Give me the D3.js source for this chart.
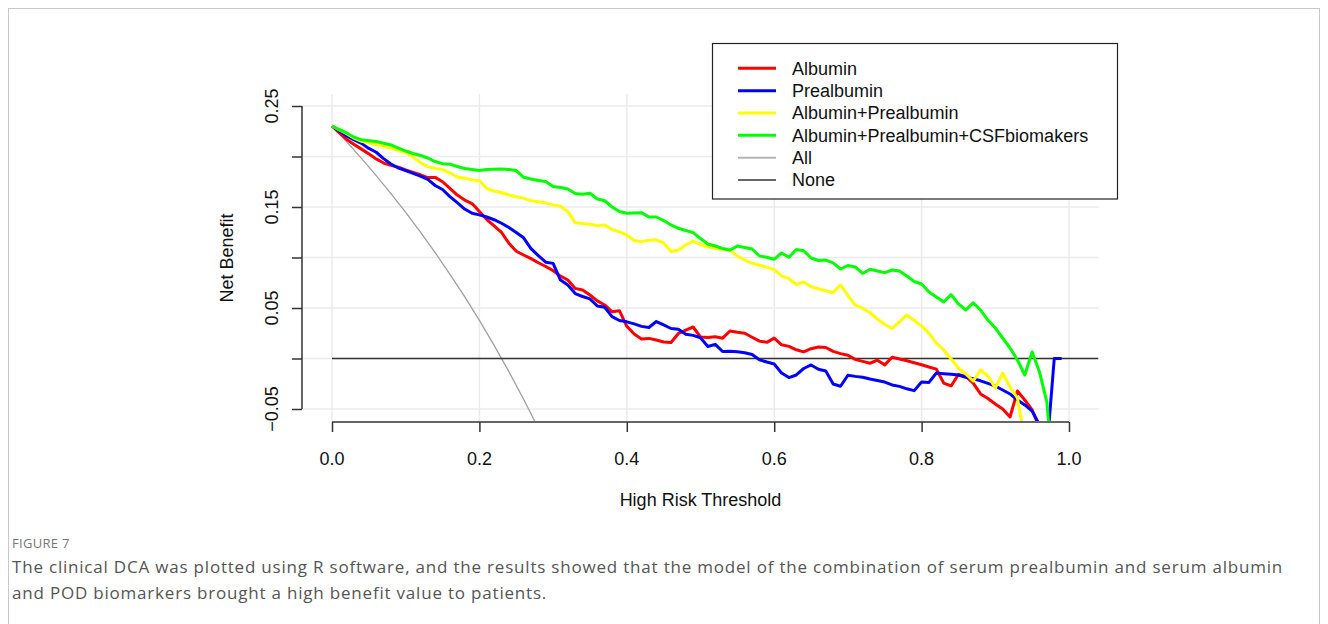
<!DOCTYPE html>
<html><head><meta charset="utf-8">
<script src="https://cdn.jsdelivr.net/npm/d3@7"></script>
<style>
body{margin:0;background:#fff;}
svg{display:block;}
</style></head>
<body>
<svg id="chart" width="1328" height="624"></svg>
<script>
// ---------- DATA ----------
const thresholds = [0.00,0.01,0.02,0.03,0.04,0.05,0.06,0.07,0.08,0.09,
0.10,0.11,0.12,0.13,0.14,0.15,0.16,0.17,0.18,0.19,
0.20,0.21,0.22,0.23,0.24,0.25,0.26,0.27,0.28,0.29,
0.30,0.31,0.32,0.33,0.34,0.35,0.36,0.37,0.38,0.39,
0.40,0.41,0.42,0.43,0.44,0.45,0.46,0.47,0.48,0.49,
0.50,0.51,0.52,0.53,0.54,0.55,0.56,0.57,0.58,0.59,
0.60,0.61,0.62,0.63,0.64,0.65,0.66,0.67,0.68,0.69,
0.70,0.71,0.72,0.73,0.74,0.75,0.76,0.77,0.78,0.79,
0.80,0.81,0.82,0.83,0.84,0.85,0.86,0.87,0.88,0.89,
0.90,0.91,0.92,0.93,0.94,0.95,0.96,0.97,0.98,0.99];

const albumin = [0.2302,0.2233,0.2169,0.2120,0.2073,0.2026,0.1976,0.1935,0.1912,0.1894,
0.1867,0.1843,0.1819,0.1791,0.1793,0.1750,0.1684,0.1618,0.1569,0.1534,
0.1455,0.1376,0.1313,0.1248,0.1142,0.1062,0.1025,0.0989,0.0948,0.0911,
0.0870,0.0815,0.0777,0.0694,0.0678,0.0629,0.0570,0.0530,0.0463,0.0473,
0.0319,0.0242,0.0194,0.0199,0.0183,0.0164,0.0158,0.0248,0.0282,0.0312,
0.0213,0.0207,0.0216,0.0201,0.0272,0.0260,0.0250,0.0210,0.0172,0.0160,
0.0202,0.0136,0.0120,0.0086,0.0066,0.0097,0.0114,0.0109,0.0070,0.0048,
0.0032,-0.0009,-0.0028,-0.0047,-0.0017,-0.0063,0.0012,-0.0005,-0.0022,-0.0042,
-0.0062,-0.0084,-0.0105,-0.0243,-0.0272,-0.0158,-0.0178,-0.0243,-0.0351,-0.0396,
-0.0451,-0.0500,-0.0579,-0.0322,-0.0411,-0.0510,-0.0688,-0.1000];

const prealbumin = [0.2302,0.2253,0.2204,0.2165,0.2130,0.2080,0.2042,0.1979,0.1926,0.1886,
0.1860,0.1833,0.1805,0.1773,0.1713,0.1673,0.1603,0.1543,0.1480,0.1438,
0.1422,0.1401,0.1374,0.1339,0.1297,0.1248,0.1195,0.1087,0.1018,0.0954,
0.0942,0.0777,0.0728,0.0643,0.0614,0.0590,0.0520,0.0507,0.0414,0.0376,
0.0363,0.0343,0.0318,0.0307,0.0366,0.0332,0.0297,0.0290,0.0241,0.0229,
0.0205,0.0119,0.0140,0.0069,0.0072,0.0067,0.0057,0.0040,-0.0013,-0.0035,
-0.0054,-0.0144,-0.0189,-0.0163,-0.0099,-0.0064,-0.0107,-0.0123,-0.0252,-0.0275,
-0.0166,-0.0177,-0.0186,-0.0203,-0.0218,-0.0233,-0.0262,-0.0276,-0.0300,-0.0318,
-0.0233,-0.0237,-0.0144,-0.0150,-0.0156,-0.0163,-0.0186,-0.0201,-0.0221,-0.0246,
-0.0272,-0.0312,-0.0351,-0.0411,-0.0460,-0.0520,-0.0658,-0.0900,0.0000,0.0000];

const albuminPrealbumin = [0.2302,0.2264,0.2226,0.2181,0.2150,0.2135,0.2119,0.2101,0.2083,0.2059,
0.2040,0.1994,0.1940,0.1900,0.1883,0.1870,0.1839,0.1797,0.1784,0.1769,
0.1760,0.1683,0.1658,0.1641,0.1619,0.1602,0.1588,0.1561,0.1552,0.1541,
0.1521,0.1508,0.1454,0.1345,0.1336,0.1329,0.1314,0.1322,0.1277,0.1254,
0.1223,0.1168,0.1157,0.1172,0.1175,0.1145,0.1059,0.1074,0.1124,0.1163,
0.1129,0.1104,0.1092,0.1078,0.1074,0.1013,0.0977,0.0943,0.0924,0.0904,
0.0880,0.0819,0.0790,0.0733,0.0757,0.0711,0.0690,0.0670,0.0653,0.0728,
0.0624,0.0529,0.0498,0.0453,0.0391,0.0337,0.0299,0.0363,0.0431,0.0376,
0.0323,0.0249,0.0153,0.0084,-0.0005,-0.0094,-0.0153,-0.0223,-0.0114,-0.0173,
-0.0292,-0.0144,-0.0282,-0.0391,-0.0807];

const albuminPrealbuminCSF = [0.2302,0.2267,0.2233,0.2191,0.2165,0.2157,0.2149,0.2131,0.2114,0.2084,
0.2054,0.2030,0.2010,0.1985,0.1950,0.1929,0.1924,0.1901,0.1881,0.1871,
0.1861,0.1871,0.1874,0.1876,0.1871,0.1861,0.1794,0.1777,0.1762,0.1752,
0.1703,0.1693,0.1678,0.1634,0.1626,0.1636,0.1579,0.1562,0.1500,0.1455,
0.1438,0.1441,0.1444,0.1401,0.1401,0.1366,0.1322,0.1289,0.1267,0.1246,
0.1188,0.1134,0.1114,0.1089,0.1074,0.1114,0.1099,0.1084,0.1015,0.1002,
0.0982,0.1045,0.1002,0.1079,0.1067,0.0995,0.0970,0.0975,0.0946,0.0886,
0.0921,0.0906,0.0842,0.0883,0.0866,0.0850,0.0876,0.0866,0.0817,0.0762,
0.0738,0.0658,0.0609,0.0559,0.0634,0.0540,0.0480,0.0550,0.0480,0.0381,
0.0302,0.0203,0.0104,-0.0015,-0.0163,0.0064,-0.0134,-0.0431,-0.1300];

const allThresholds = [0.00,0.02,0.04,0.06,0.08,0.10,0.12,0.14,0.16,0.18,0.20,0.22,0.24,0.26,0.28];
const treatAll = [0.2302,0.2145,0.1981,0.1810,0.1632,0.1446,0.1252,0.1048,0.0834,0.0612,0.0377,0.0130,-0.0130,-0.0403,-0.0691];

const noneThresholds = [0.00,1.04];
const treatNone = [0,0];

const seriesNames = ["Albumin","Prealbumin","Albumin+Prealbumin","Albumin+Prealbumin+CSFbiomakers"];
const legendNames = ["Albumin","Prealbumin","Albumin+Prealbumin","Albumin+Prealbumin+CSFbiomakers","All","None"];

const xTicks = [0.0,0.2,0.4,0.6,0.8,1.0];
const xTickLabels = ["0.0","0.2","0.4","0.6","0.8","1.0"];
const yTicks = [-0.05,0.00,0.05,0.10,0.15,0.20,0.25];
const yTickLabels = ["\u22120.05","","0.05","","0.15","","0.25"];
const gridX = [0.0,0.2,0.4,0.6,0.8,1.0];
const gridY = [-0.05,0.00,0.05,0.10,0.15,0.20,0.25];

const xTitle = "High Risk Threshold";
const yTitle = "Net Benefit";
const figLabel = "FIGURE 7";
const captionLines = ["The clinical DCA was plotted using R software, and the results showed that the model of the combination of serum prealbumin and serum albumin",
"and POD biomarkers brought a high benefit value to patients."];

// ---------- STYLE ----------
const seriesColors = ["#ff0000","#0000ff","#ffff00","#00ff00"];
const legendColors = ["#ff0000","#0000ff","#ffff00","#00ff00","#b4b4b4","#333333"];
const legendWidths = [3,3,3,3,2,1.6];
const FONT = "'Liberation Sans', Arial, Helvetica, sans-serif";

const svg = d3.select("#chart");

// figure frame
svg.append("rect").attr("x",8.5).attr("y",8.5).attr("width",1311).attr("height",700)
  .attr("fill","none").attr("stroke","#c8c8c8").attr("stroke-width",1);

const x = d3.scaleLinear().domain([0,1]).range([332,1069]);
const y = d3.scaleLinear().domain([-0.05,0.25]).range([409,106]);

// plot region (R: 4% extension)
const xr0 = x(-0.04), xr1 = x(1.04);
const yr0 = y(0.262), yr1 = y(-0.062);

svg.append("defs").append("clipPath").attr("id","plotclip")
  .append("rect").attr("x",xr0).attr("y",yr0).attr("width",xr1-xr0).attr("height",yr1-yr0);

// grid
const grid = svg.append("g");
grid.selectAll("line.gx").data(gridX).join("line")
  .attr("x1",d=>x(d)).attr("x2",d=>x(d)).attr("y1",yr0).attr("y2",yr1)
  .attr("stroke","#ebebeb").attr("stroke-width",1.5);
grid.selectAll("line.gy").data(gridY).join("line")
  .attr("y1",d=>y(d)).attr("y2",d=>y(d)).attr("x1",xr0).attr("x2",xr1)
  .attr("stroke","#ebebeb").attr("stroke-width",1.5);

const plot = svg.append("g").attr("clip-path","url(#plotclip)");
const line = d3.line().x(d=>x(d[0])).y(d=>y(d[1]));

// All / None
plot.append("path").datum(allThresholds.map((t,i)=>[t,treatAll[i]]))
  .attr("d",line).attr("fill","none").attr("stroke","#a0a0a0").attr("stroke-width",1.3);
plot.append("path").datum(noneThresholds.map((t,i)=>[t,treatNone[i]]))
  .attr("d",line).attr("fill","none").attr("stroke","#333333").attr("stroke-width",1.6);

// model curves
const seriesVals = [albumin, prealbumin, albuminPrealbumin, albuminPrealbuminCSF];
seriesVals.forEach((vals,si)=>{
  plot.append("path").datum(vals.map((v,i)=>[thresholds[i],v]))
    .attr("d",line).attr("fill","none").attr("stroke",seriesColors[si])
    .attr("stroke-width",3).attr("stroke-linejoin","round");
});

// y axis
const yAxis = d3.axisLeft(y).tickValues(yTicks).tickSize(10).tickFormat("");
const gy = svg.append("g").attr("transform","translate(302,0)").call(yAxis);
gy.select(".domain").attr("d",`M0,${y(-0.05)}V${y(0.25)}`).attr("stroke","#333").attr("stroke-width",1.5);
gy.selectAll(".tick line").attr("stroke","#333").attr("stroke-width",1.5);
svg.append("g").selectAll("text").data(yTicks).join("text")
  .attr("transform",d=>`translate(278,${y(d)}) rotate(-90)`)
  .attr("text-anchor","middle").attr("font-family",FONT).attr("font-size",18).attr("fill","#111")
  .text((d,i)=>yTickLabels[i]);

// x axis
const xAxis = d3.axisBottom(x).tickValues(xTicks).tickSize(10).tickFormat("");
const gx = svg.append("g").attr("transform","translate(0,422)").call(xAxis);
gx.select(".domain").attr("d",`M${x(0)},0H${x(1)}`).attr("stroke","#333").attr("stroke-width",1.5);
gx.selectAll(".tick line").attr("stroke","#333").attr("stroke-width",1.5);
svg.append("g").selectAll("text").data(xTicks).join("text")
  .attr("x",d=>x(d)).attr("y",465).attr("text-anchor","middle")
  .attr("font-family",FONT).attr("font-size",18).attr("fill","#111")
  .text((d,i)=>xTickLabels[i]);

// axis titles
svg.append("text").attr("x",x(0.5)).attr("y",506).attr("text-anchor","middle")
  .attr("font-family",FONT).attr("font-size",18).attr("fill","#111").text(xTitle);
svg.append("text").attr("transform","translate(233,258) rotate(-90)").attr("text-anchor","middle")
  .attr("font-family",FONT).attr("font-size",18).attr("fill","#111").text(yTitle);

// legend
const lg = svg.append("g");
lg.append("rect").attr("x",712.5).attr("y",43.5).attr("width",405).attr("height",155.5)
  .attr("fill","#fff").attr("stroke","#222").attr("stroke-width",1.2);
legendNames.forEach((name,i)=>{
  const yy = 68.3 + i*22.35;
  lg.append("line").attr("x1",738).attr("x2",776).attr("y1",yy).attr("y2",yy)
    .attr("stroke",legendColors[i]).attr("stroke-width",legendWidths[i]);
  lg.append("text").attr("x",792).attr("y",yy+6.3).attr("font-family",FONT)
    .attr("font-size",18).attr("fill","#111").text(name);
});

// caption
const CAPFONT = "'Open Sans','Noto Sans',sans-serif";
svg.append("text").attr("x",12).attr("y",548).attr("font-family",CAPFONT)
  .attr("font-size",13).attr("fill","#777").attr("letter-spacing",0.3).text(figLabel);
const capTargetW = 1271;
const cap = svg.append("g");
const c1 = cap.append("text").attr("x",12).attr("y",573).attr("font-family",CAPFONT)
  .attr("font-size",17).attr("fill","#555").text(captionLines[0]);
const w = c1.node().getComputedTextLength();
let ls = (capTargetW - w) / captionLines[0].length;
ls = Math.max(-0.5, Math.min(1.0, ls));
c1.attr("letter-spacing",ls);
cap.append("text").attr("x",12).attr("y",599).attr("font-family",CAPFONT)
  .attr("font-size",17).attr("fill","#555").attr("letter-spacing",ls).text(captionLines[1]);
</script>
</body></html>
